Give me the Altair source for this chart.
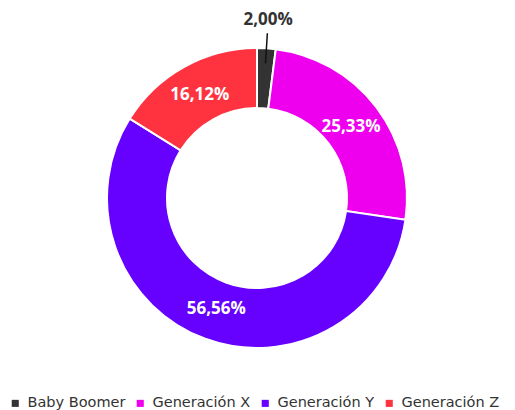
import altair as alt
import pandas as pd

categories = ["Baby Boomer", "Generación X", "Generación Y", "Generación Z"]
values = [2.00, 25.33, 56.56, 16.12]
colors = ["#333333", "#EE00EE", "#6600FF", "#FF3340"]

df = pd.DataFrame({"category": categories, "value": values, "idx": list(range(len(categories)))})

W, H = 498, 356
R_OUT, R_IN = 150, 90

base = alt.Chart(df)

arcs = base.mark_arc(outerRadius=R_OUT, innerRadius=R_IN, stroke="white", strokeWidth=2).encode(
    theta=alt.Theta("value:Q", stack=True),
    color=alt.Color(
        "category:N",
        scale=alt.Scale(domain=categories, range=colors),
        legend=alt.Legend(
            orient="bottom", direction="horizontal", title=None,
            symbolType="square", symbolSize=50, symbolStrokeWidth=0,
            labelFont="DejaVu Sans", labelFontSize=14.5, labelColor="#333333",
            columnPadding=7, symbolOffset=0, offset=20, labelOffset=5,
        ),
    ),
    order=alt.Order("idx:Q", sort="ascending"),
)

pos = (
    base.transform_joinaggregate(total="sum(value)")
    .transform_window(cum="sum(value)", sort=[alt.SortField("idx", order="ascending")])
    .transform_calculate(
        a="(datum.cum - datum.value/2) / datum.total * 2 * PI",
        out="datum.value / datum.total < 0.05",
        lr="datum.out ? 178 : 118",
        tx="datum.lr * sin(datum.a)",
        ty="datum.lr * cos(datum.a)",
        rx1="135 * sin(datum.a)",
        ry1="135 * cos(datum.a)",
        rx2="165 * sin(datum.a)",
        ry2="165 * cos(datum.a)",
        label="replace(format(datum.value, '.2f'), '.', ',') + '%'",
    )
)

xs = alt.Scale(domain=[-W / 2, W / 2])
ys = alt.Scale(domain=[-H / 2, H / 2])

texts = pos.mark_text(font="Open Sans", fontWeight="bold", fontSize=17, align="center", baseline="middle").encode(
    x=alt.X("tx:Q", scale=xs, axis=None),
    y=alt.Y("ty:Q", scale=ys, axis=None),
    text="label:N",
    color=alt.condition("datum.out", alt.value("#333333"), alt.value("white")),
)

leader = pos.transform_filter("datum.out").mark_rule(color="#111111", strokeWidth=1.5).encode(
    x=alt.X("rx1:Q", scale=xs, axis=None),
    y=alt.Y("ry1:Q", scale=ys, axis=None),
    x2="rx2:Q",
    y2="ry2:Q",
)

chart = (
    alt.layer(arcs, leader, texts)
    .properties(
        width=W, height=H,
        padding={"top": 3, "left": 0, "right": 0, "bottom": 0},
        background="white",
    )
    .configure_view(stroke=None)
)

chart.save("out.html", embed_options={"renderer": "svg", "actions": False})
